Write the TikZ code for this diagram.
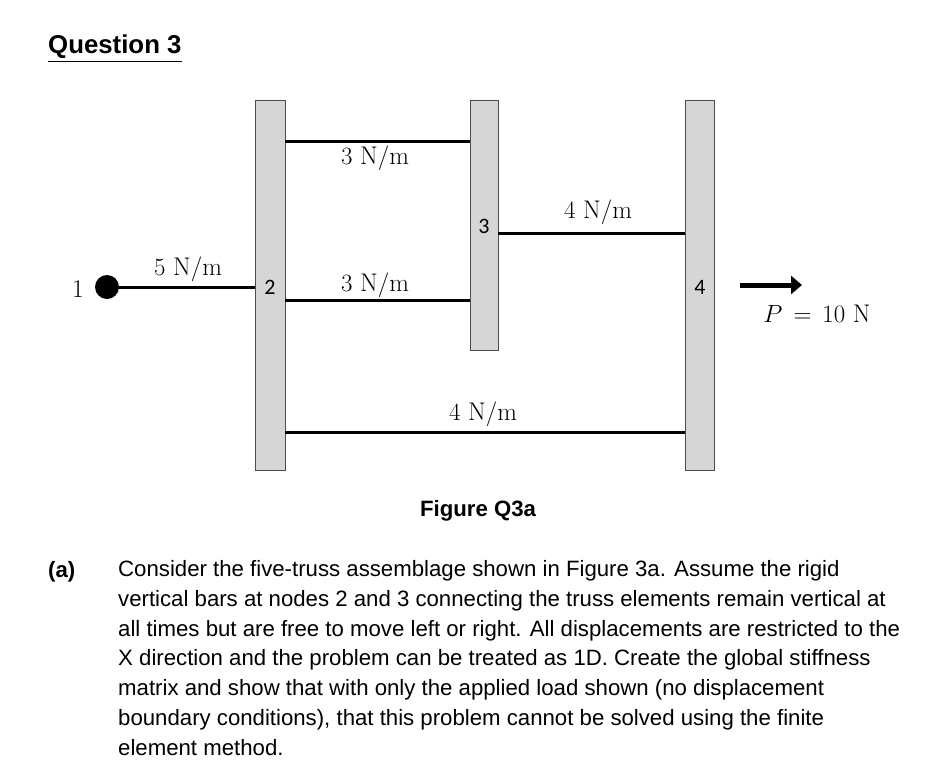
\documentclass[tikz,border=0pt]{standalone}
\usetikzlibrary{arrows.meta}
\usepackage{fontspec}
\setsansfont{Liberation Sans}
\newfontfamily\calib{Carlito}
\usepackage{amsmath}
\begin{document}
\begin{tikzpicture}[x=1pt,y=-1pt,
 bar/.style={draw=black!70,fill=black!16,line width=0.9pt},
 spring/.style={line width=3pt},
 lab/.style={font=\fontsize{25.5}{28}\selectfont},
 num/.style={font=\calib\fontsize{22}{24}\selectfont},
 txt/.style={font=\sffamily\fontsize{22.2}{24}\selectfont,anchor=base west,inner sep=0}]
\useasboundingbox (0,0) rectangle (937,769);
\node[txt,font=\sffamily\bfseries\fontsize{25.8}{28}\selectfont] (q) at (48,53) {\underline{Question 3}};
\draw[bar] (255,100) rectangle (285,470);
\draw[bar] (470,100) rectangle (498,350);
\draw[bar] (685,100) rectangle (714,470);
\node[num] (n2) at (270,287) {2};
\node[num] (n3) at (484,226) {3};
\node[num] (n4) at (700,287) {4};
\node[circle,fill=black,minimum size=24pt,inner sep=0] (c1) at (107,287) {};
\node[lab] (l1) at (78,289) {1};
\draw[spring] (c1.center) -- (255,287);
\draw[spring] (285,141) -- (470,141);
\draw[spring] (285,300) -- (470,300);
\draw[spring] (498,233) -- (685,233);
\draw[spring] (285,432) -- (685,432);
\node[lab] (k5) at (188,269) {$5\ \mathrm{N/m}$};
\node[lab] (k3a) at (375,158) {$3\ \mathrm{N/m}$};
\node[lab] (k3b) at (375,285) {$3\ \mathrm{N/m}$};
\node[lab] (k4a) at (598,212) {$4\ \mathrm{N/m}$};
\node[lab] (k4b) at (483,414) {$4\ \mathrm{N/m}$};
\coordinate (a0) at (740,285); \coordinate (a1) at (802,285);
\draw[line width=5pt,-{Triangle[length=11pt,width=18pt]}] (a0) -- (a1);
\node[lab] (P) at (817,314) {$P\,=\,10\ \mathrm{N}$};
\node[txt,font=\sffamily\bfseries\fontsize{22.2}{24}\selectfont,anchor=base] (fig) at (478,516) {Figure Q3a};
\node[txt,font=\sffamily\bfseries\fontsize{22.2}{24}\selectfont] (a) at (48,577) {(a)};
\node[txt,align=left,anchor=base west,font=\sffamily\fontsize{22.2}{29.7}\selectfont] (p) at (118,755) {Consider the five-truss assemblage shown in Figure 3a. Assume the rigid\\
vertical bars at nodes 2 and 3 connecting the truss elements remain vertical at\\
all times but are free to move left or right. All displacements are restricted to the\\
X direction and the problem can be treated as 1D. Create the global stiffness\\
matrix and show that with only the applied load shown (no displacement\\
boundary conditions), that this problem cannot be solved using the finite\\
element method.};
\end{tikzpicture}
\end{document}
